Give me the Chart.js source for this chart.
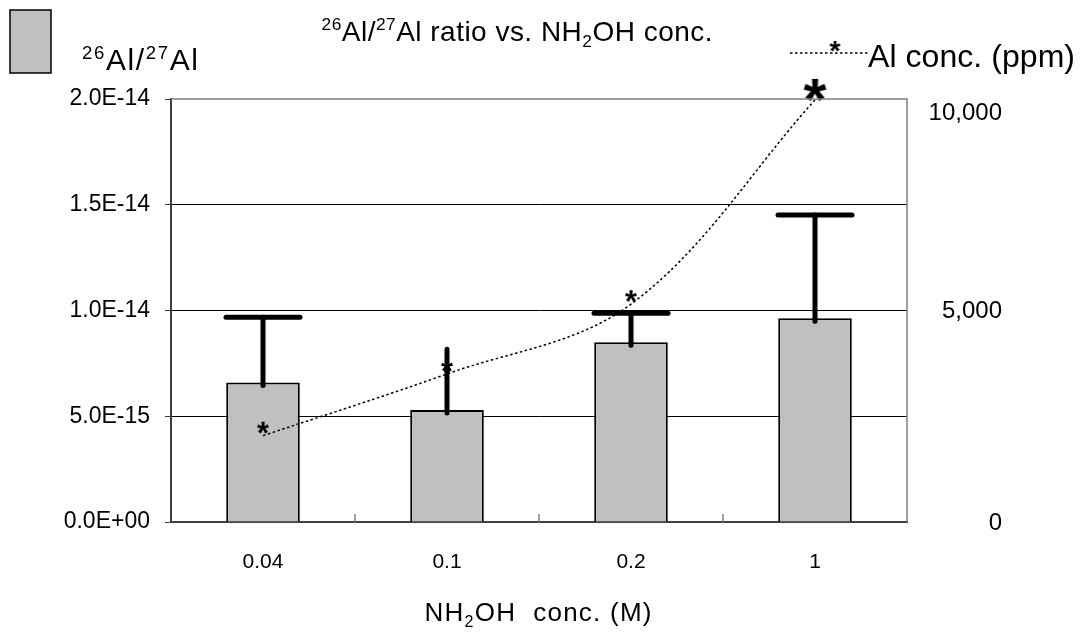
<!DOCTYPE html>
<html>
<head>
<meta charset="utf-8">
<script src="https://cdn.jsdelivr.net/npm/chart.js@4"></script>
<style>
  body { margin: 0; background: #fff; }
  #wrap { width: 1084px; height: 632px; }
</style>
</head>
<body>
<div id="wrap"><canvas id="ratioChart" width="1084" height="632"></canvas></div>
<script>
// data
const categories = ['0.04', '0.1', '0.2', '1'];
const ratioValues = [6.6e-15, 5.3e-15, 8.5e-15, 9.63e-15];
const ratioErrHigh = [9.68e-15, 8.17e-15, 9.87e-15, 1.452e-14];
const errCaps = [true, false, true, true];
const alConc = [2040, 3500, 5150, 9980];
const ratioTicks = [0, 5e-15, 1e-14, 1.5e-14, 2e-14];
const concTicks = [0, 5000, 10000];

const FONT = "'Liberation Sans', Arial, sans-serif";

function sci(v) {
    if (v === 0) return '0.0E+00';
    const e = Math.floor(Math.log10(v) + 1e-9);
    const m = v / Math.pow(10, e);
    const sign = e < 0 ? '-' : '+';
    return m.toFixed(1) + 'E' + sign + String(Math.abs(e)).padStart(2, '0');
}

// asterisk marker, drawn a bit above the data point like the original
function makeStar(width, dy) {
    const c = document.createElement('canvas');
    const t = c.getContext('2d');
    t.font = 'bold 100px ' + FONT;
    let m = t.measureText('*');
    const fs = 100 * width / (m.actualBoundingBoxLeft + m.actualBoundingBoxRight);
    c.width = Math.ceil(width + 6);
    c.height = Math.ceil(2 * (Math.abs(dy) + width) + 6);
    const ctx = c.getContext('2d');
    ctx.font = 'bold ' + fs + 'px ' + FONT;
    ctx.fillStyle = '#000';
    m = ctx.measureText('*');
    const x = c.width / 2 - (m.actualBoundingBoxRight - m.actualBoundingBoxLeft) / 2;
    const y = c.height / 2 + dy - (m.actualBoundingBoxDescent - m.actualBoundingBoxAscent) / 2;
    ctx.fillText('*', x, y);
    return c;
}

const smallStar = makeStar(12, -8);
const bigStar = makeStar(23, -10);
const legendStar = makeStar(11, -7);

// text with superscripts / subscripts, char by char so the width can be stretched
function drawRich(ctx, runs, x, y, size, align, targetW) {
    const pieces = [];
    runs.forEach(r => {
        const fs = r.s ? size * 0.62 : size;
        const off = r.s === 'sup' ? -size * 0.38 : (r.s === 'sub' ? size * 0.22 : 0);
        for (const ch of r.t) pieces.push({ ch, fs, off });
    });
    let natural = 0;
    pieces.forEach(p => {
        ctx.font = p.fs + 'px ' + FONT;
        p.w = ctx.measureText(p.ch).width;
        natural += p.w;
    });
    const extra = targetW ? (targetW - natural) / (pieces.length - 1) : 0;
    const total = natural + extra * (pieces.length - 1);
    let cx = align === 'center' ? x - total / 2 : (align === 'right' ? x - total : x);
    ctx.textAlign = 'left';
    ctx.textBaseline = 'alphabetic';
    ctx.fillStyle = '#000';
    pieces.forEach(p => {
        ctx.font = p.fs + 'px ' + FONT;
        ctx.fillText(p.ch, cx, y + p.off);
        cx += p.w + extra;
    });
}

const decorPlugin = {
    id: 'decor',
    afterDatasetDraw(chart, args) {
        if (args.index !== 0) return;
        // error bars on the ratio bars
        const ctx = chart.ctx;
        const y = chart.scales.y;
        const meta = chart.getDatasetMeta(0);
        ctx.save();
        ctx.strokeStyle = '#000';
        ctx.lineCap = 'round';
        meta.data.forEach((bar, i) => {
            const top = y.getPixelForValue(ratioErrHigh[i]);
            ctx.lineWidth = 5;
            ctx.beginPath();
            ctx.moveTo(bar.x, bar.y + 3);
            ctx.lineTo(bar.x, top);
            ctx.stroke();
            if (errCaps[i]) {
                ctx.beginPath();
                ctx.moveTo(bar.x - 37, top);
                ctx.lineTo(bar.x + 37, top);
                ctx.stroke();
            }
        });
        ctx.restore();
    },
    afterDraw(chart) {
        const ctx = chart.ctx;
        const a = chart.chartArea;
        const x = chart.scales.x;
        const y2 = chart.scales.y2;
        ctx.save();

        // top and right frame
        ctx.strokeStyle = '#808080';
        ctx.lineWidth = 1.5;
        ctx.beginPath();
        ctx.moveTo(a.left, a.top);
        ctx.lineTo(a.right, a.top);
        ctx.lineTo(a.right, a.bottom);
        ctx.stroke();

        // inward ticks between categories
        for (let i = 1; i < categories.length; i++) {
            const bx = (x.getPixelForTick(i - 1) + x.getPixelForTick(i)) / 2;
            ctx.beginPath();
            ctx.moveTo(bx, a.bottom);
            ctx.lineTo(bx, a.bottom - 8);
            ctx.stroke();
        }

        // right axis labels
        ctx.fillStyle = '#000';
        ctx.font = '24px ' + FONT;
        ctx.textAlign = 'right';
        ctx.textBaseline = 'middle';
        concTicks.forEach(v => {
            let py = y2.getPixelForValue(v);
            if (py < a.top + 5) py += 13;
            ctx.fillText(v.toLocaleString('en-US'), 1002, py + 1);
        });

        // title
        drawRich(ctx, [
            { t: '26', s: 'sup' }, { t: 'Al/' }, { t: '27', s: 'sup' },
            { t: 'Al ratio vs. NH' }, { t: '2', s: 'sub' }, { t: 'OH conc.' }
        ], 517, 41, 28, 'center', 391);

        // x axis title
        drawRich(ctx, [
            { t: 'NH' }, { t: '2', s: 'sub' }, { t: 'OH  conc. (M)' }
        ], 538, 621, 26, 'center', 227);

        // legend: bars
        ctx.fillStyle = '#c0c0c0';
        ctx.fillRect(10, 10, 41, 63);
        ctx.strokeStyle = '#000';
        ctx.lineWidth = 1.5;
        ctx.strokeRect(10, 10, 41, 63);
        drawRich(ctx, [
            { t: '26', s: 'sup' }, { t: 'Al/' }, { t: '27', s: 'sup' }, { t: 'Al' }
        ], 82, 70, 30, 'left', 116);

        // legend: line
        ctx.strokeStyle = '#000';
        ctx.lineWidth = 1.5;
        ctx.setLineDash([2.5, 2.5]);
        ctx.beginPath();
        ctx.moveTo(790, 53);
        ctx.lineTo(868, 53);
        ctx.stroke();
        ctx.setLineDash([]);
        ctx.drawImage(legendStar, 835 - legendStar.width / 2, 53 - legendStar.height / 2);
        drawRich(ctx, [{ t: 'Al conc. (ppm)' }], 868, 67, 32, 'left', 207);

        ctx.restore();
    }
};

new Chart(document.getElementById('ratioChart'), {
    data: {
        labels: categories,
        datasets: [{
            type: 'bar',
            label: '26Al/27Al',
            data: ratioValues,
            yAxisID: 'y',
            backgroundColor: '#c0c0c0',
            borderColor: '#000',
            borderWidth: 2,
            barPercentage: 0.4,
            categoryPercentage: 1,
            order: 2
        }, {
            type: 'line',
            label: 'Al conc. (ppm)',
            data: alConc,
            yAxisID: 'y2',
            borderColor: '#000',
            borderWidth: 1.5,
            borderDash: [2.5, 2.5],
            tension: 0.35,
            pointStyle: [smallStar, smallStar, smallStar, bigStar],
            pointRadius: 6,
            clip: false,
            order: 1
        }]
    },
    options: {
        responsive: false,
        animation: false,
        events: [],
        layout: { padding: { top: 99, left: 0, right: 0, bottom: 0 } },
        plugins: {
            legend: { display: false },
            title: { display: false },
            tooltip: { enabled: false }
        },
        scales: {
            x: {
                offset: true,
                grid: { display: false, drawTicks: false },
                border: { color: '#404040', width: 2 },
                ticks: { color: '#000', font: { family: FONT, size: 21 }, padding: 28 },
                afterFit: s => { s.height = 110; }
            },
            y: {
                position: 'left',
                min: 0,
                max: 2e-14,
                afterBuildTicks: s => { s.ticks = ratioTicks.map(v => ({ value: v })); },
                grid: {
                    color: c => (c.tick && c.tick.value > 0 && c.tick.value < 2e-14) ? '#000' : 'rgba(0,0,0,0)',
                    tickColor: '#404040',
                    tickLength: 6,
                    lineWidth: 1
                },
                border: { color: '#404040', width: 2 },
                ticks: {
                    color: '#000',
                    font: { family: FONT, size: 23 },
                    padding: 15,
                    callback: v => sci(v)
                },
                afterFit: s => { s.width = 171; }
            },
            y2: {
                position: 'right',
                min: 0,
                max: 10000,
                afterBuildTicks: s => { s.ticks = concTicks.map(v => ({ value: v })); },
                grid: { display: false, drawTicks: false },
                border: { display: false },
                ticks: { display: false },
                afterFit: s => { s.width = 177; }
            }
        }
    },
    plugins: [decorPlugin]
});
</script>
</body>
</html>
